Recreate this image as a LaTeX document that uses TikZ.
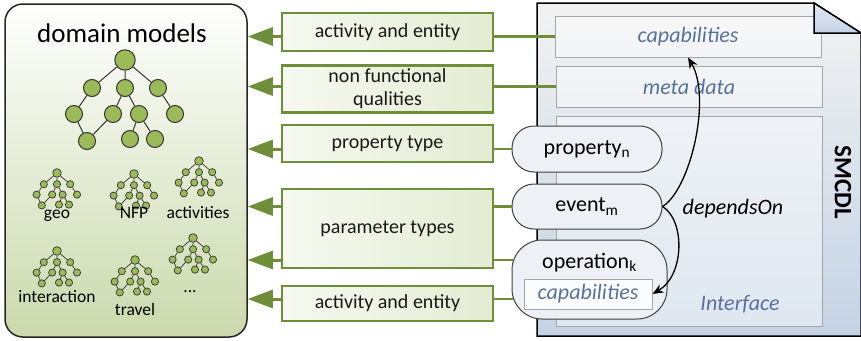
\documentclass[tikz,border=0pt]{standalone}
\usepackage{fontspec}
\setmainfont{Carlito}
\usetikzlibrary{arrows.meta}

\definecolor{modelgreen}{HTML}{6F8E3A}
\definecolor{treegreen}{HTML}{9BBB59}
\definecolor{boxlight}{HTML}{F6F9F0}
\definecolor{boxgreen}{HTML}{E4ECD3}
\definecolor{domgreen}{HTML}{CBD9AC}
\definecolor{docgray}{HTML}{F2F2F2}
\definecolor{docblue}{HTML}{C4D3E5}
\definecolor{panelline}{HTML}{A6A6A6}
\definecolor{captext}{HTML}{58719A}
\definecolor{pillline}{HTML}{404040}
\definecolor{pillfill}{HTML}{EDF0F5}

\tikzset{
  treenode/.style={circle, draw=black!80, fill=treegreen, inner sep=0pt},
  % a small model tree, #1 is the node size
  modeltree/.pic={
    \node[treenode, minimum size=1.2*#1] (-r) at (0,0) {};
    \node[treenode, minimum size=#1] (-a) at (-33,28) {};
    \node[treenode, minimum size=#1] (-b) at (0,28) {};
    \node[treenode, minimum size=#1] (-c) at (33,28) {};
    \node[treenode, minimum size=#1] (-d) at (-51,54) {};
    \node[treenode, minimum size=#1] (-e) at (-12,54) {};
    \node[treenode, minimum size=#1] (-f) at (14,54) {};
    \node[treenode, minimum size=#1] (-g) at (50,54) {};
    \node[treenode, minimum size=#1] (-h) at (-38,81) {};
    \node[treenode, minimum size=#1] (-i) at (5,79) {};
    \node[treenode, minimum size=#1] (-j) at (30,79) {};
    \draw[black!80] (-r) -- (-a) (-r) -- (-b) (-r) -- (-c)
      (-a) -- (-d) (-d) -- (-h) (-e) -- (-h) (-b) -- (-e) (-b) -- (-f)
      (-f) -- (-i) (-f) -- (-j) (-c) -- (-g);
  }
}

\begin{document}
\begin{tikzpicture}[x=1pt, y=-1pt,
    domainbox/.style={draw=black!85, line width=1.5pt, rounded corners=18pt,
      top color=white, bottom color=domgreen, minimum width=242, minimum height=333},
    smalltree/.style={scale=0.4, line width=0.7pt},
    treelabel/.style={anchor=base, font=\fontsize{17.5}{19}\selectfont},
    greenbox/.style={draw=modelgreen, line width=2.5pt, left color=boxlight,
      right color=boxgreen, minimum width=211, align=center, text=black!90,
      font=\fontsize{20}{23}\selectfont},
    feed/.style={modelgreen, line width=3pt, -{Triangle[length=25pt, width=18pt]}},
    link/.style={modelgreen, line width=2.5pt},
    panel/.style={draw=panelline, line width=1pt, fill=white, fill opacity=0.45,
      text opacity=1, text=captext, font=\fontsize{22}{24}\selectfont\itshape},
    pill/.style={draw=pillline, line width=1pt, fill=pillfill,
      font=\fontsize{22}{24}\selectfont},
    dep/.style={line width=1.3pt, -{Stealth[length=11pt, width=9pt]}}
  ]
  \useasboundingbox (0,0) rectangle (861,340);

  % domain models with their trees
  \node[domainbox] (domain) at (126,170.5) {};
  \node[font=\fontsize{27}{29}\selectfont] (title) at (122,33) {domain models};
  \pic[line width=1pt] (big) at (125,60) {modeltree=17};
  \pic[smalltree] (geo) at (57,173) {modeltree=7.2};
  \pic[smalltree] (nfp) at (134,174) {modeltree=7.2};
  \pic[smalltree] (act) at (199,161) {modeltree=7.2};
  \pic[smalltree] (inter) at (57,251) {modeltree=7.2};
  \pic[smalltree] (travel) at (135,260) {modeltree=7.2};
  \pic[smalltree] (more) at (193,238) {modeltree=7.2};
  \node[treelabel] (geoname) at (57,218) {geo};
  \node[treelabel] (nfpname) at (134,218) {NFP};
  \node[treelabel] (actname) at (198,218) {activities};
  \node[treelabel] (intername) at (57,302) {interaction};
  \node[treelabel] (travelname) at (135,315) {travel};
  \node[treelabel] (morename) at (190,292) {...};

  % mapping boxes
  \node[greenbox, minimum height=38] (actbox) at (387.5,32) {activity and entity};
  \node[greenbox, minimum height=46] (nfqbox) at (387.5,89) {non functional\\qualities};
  \node[greenbox, minimum height=37] (propbox) at (387.5,143.5) {property type};
  \node[greenbox, minimum height=79] (parambox) at (387.5,228.5) {parameter types};
  \node[greenbox, minimum height=35] (actbox2) at (387.5,303.5) {activity and entity};

  % SMCDL document
  \draw[black, line width=1.5pt, top color=docgray, bottom color=docblue]
    (537,3) -- (814,3) -- (861,33) -- (861,336) -- (537,336) -- cycle;
  \node[panel, minimum width=266, minimum height=41] (caps) at (688,36.5) {capabilities};
  \draw[black, line width=1.5pt, top color=docblue!50, bottom color=docblue]
    (814,3) -- (814,33) -- (861,33) -- cycle;
  \node[panel, minimum width=266, minimum height=41] (meta) at (689,86.5) {meta data};
  \node[panel, minimum width=266, minimum height=210] (iface) at (689,221) {};
  \node[text=captext, font=\fontsize{22}{24}\selectfont\itshape] (ifacename) at (740,304) {Interface};
  \node[rotate=-90, font=\fontsize{25}{27}\selectfont\bfseries] (smcdl) at (843,182) {SMCDL};

  % interface elements
  \node[pill, rounded corners=22pt, minimum width=150, minimum height=46] (prop) at (587,149) {property$_{\mathrm{n}}$};
  \node[pill, rounded corners=22pt, minimum width=150, minimum height=45] (event) at (587,206.5) {event$_{\mathrm{m}}$};
  \node[pill, rounded corners=30pt, minimum width=155, minimum height=79] (op) at (589.5,279.5) {};
  \node[font=\fontsize{22}{24}\selectfont] (opname) at ([yshift=-23pt]op.north) {operation$_{\mathrm{k}}$};
  \node[panel, fill opacity=0.8, minimum width=128, minimum height=30] (opcaps) at (588,294) {capabilities};

  % links into the document
  \coordinate (opin) at (513,260);
  \coordinate (capsin) at (513,299);
  \draw[link] (actbox.east |- caps.west) -- (caps.west);
  \draw[link] (nfqbox.east |- meta.west) -- (meta.west);
  \draw[link] (propbox.east |- prop.west) -- (prop.west);
  \draw[link] (parambox.east |- event.west) -- (event.west);
  \draw[link] (parambox.east |- opin) -- (opin);
  \draw[link] (actbox2.east |- capsin) -- (capsin);

  % references into the domain models
  \draw[feed] (actbox.west |- caps.west) -- (domain.east |- caps.west);
  \draw[feed] (nfqbox.west |- meta.west) -- (domain.east |- meta.west);
  \draw[feed] (propbox.west |- prop.west) -- (domain.east |- prop.west);
  \draw[feed] (parambox.west |- event.west) -- (domain.east |- event.west);
  \draw[feed] (parambox.west |- opin) -- (domain.east |- opin);
  \draw[feed] (actbox2.west |- capsin) -- (domain.east |- capsin);

  % dependsOn
  \draw[dep] (event.east) .. controls (690,190) and (712,98) .. (caps.south);
  \draw[dep] (event.east) .. controls (685,220) and (685,275) .. (opcaps.east);
  \node[font=\fontsize{22}{24}\selectfont\itshape] (depname) at (733,209) {dependsOn};
\end{tikzpicture}
\end{document}
